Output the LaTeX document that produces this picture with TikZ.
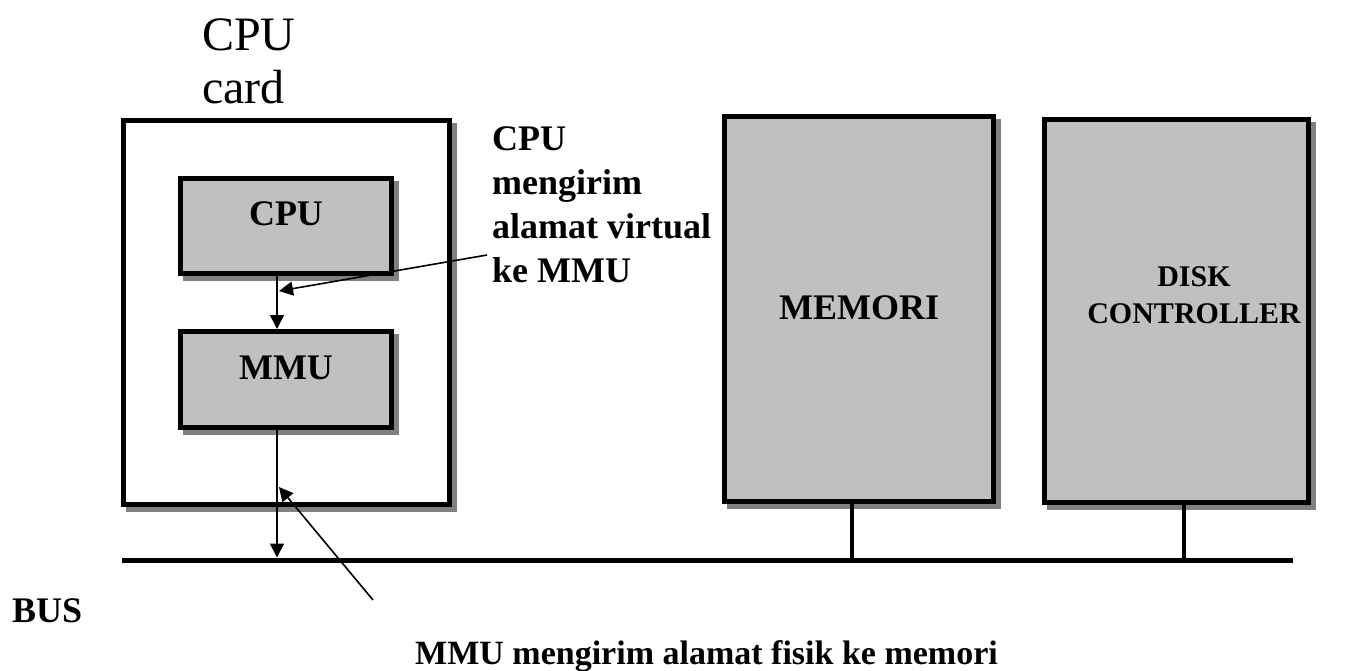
\documentclass[tikz,border=0pt]{standalone}
\usepackage{fontspec}
\setmainfont{Liberation Serif}
\usetikzlibrary{positioning, arrows.meta, shadows}
\definecolor{boxgray}{HTML}{C0C0C0}
\definecolor{shadegray}{HTML}{808080}

\begin{document}
\begin{tikzpicture}[x=1pt, y=-1pt, >={Triangle[length=14pt,width=14pt]},
    unit/.style={draw, line width=5pt, fill=boxgray, inner sep=0pt,
        general shadow={draw=shadegray, fill=shadegray, line width=5pt,
            shadow xshift=5pt, shadow yshift=-5pt}},
    lbl/.style={font=\bfseries\fontsize{36}{44}\selectfont, inner sep=0pt},
    thin/.style={line width=1.6pt}]
    \useasboundingbox (0,0) rectangle (1351,670);

    % boxes
    \node [unit, fill=white, minimum width=326pt, minimum height=384pt] (card) at (286.5,312.5) {};
    \node [unit, minimum width=211pt, minimum height=95pt] (cpu) at (286,226) {};
    \node [unit, minimum width=211pt, minimum height=96pt] (mmu) at (286,379.5) {};
    \node [unit, minimum width=269pt, minimum height=385pt] (mem) at (859,309) {};
    \node [unit, minimum width=264pt, minimum height=383pt] (disk) at (1176.5,311) {};

    \node [lbl, anchor=base] (cpulbl) at (286,225) {CPU};
    \node [lbl, anchor=base] (mmulbl) at (286,379) {MMU};
    \node [lbl, anchor=base] (memlbl) at (859,319) {MEMORI};
    \node [lbl, font=\bfseries\fontsize{30}{37}\selectfont, align=center, anchor=base] (disklbl) at (1194,323) {DISK\\CONTROLLER};

    % bus and taps
    \coordinate (busL) at (122,560);
    \coordinate (busR) at (1293,560);
    \coordinate (cputap) at (277,560);
    \coordinate (memtap) at (852,560);
    \coordinate (disktap) at (1184,560);
    \draw [line width=5pt] (busL) -- (busR);
    \draw [line width=4pt] (memtap |- mem.south) -- (memtap);
    \draw [line width=4pt] (disktap |- disk.south) -- (disktap);

    \draw [thin, ->] (cpu.south -| cputap) -- (mmu.north -| cputap);
    \draw [thin, ->, shorten >=2.5pt] (mmu.south -| cputap) -- (cputap);

    % notes
    \node [font=\fontsize{48}{53}\selectfont, align=left, anchor=base west, inner sep=0pt] (cardlbl) at (202,103) {CPU\\card};
    \node [lbl, align=left, anchor=base west] (virtlbl) at (492,282) {CPU\\mengirim\\alamat virtual\\ke MMU};
    \node [lbl, anchor=base west] (buslbl) at (12,622) {BUS};
    \node [lbl, font=\bfseries\fontsize{34}{40}\selectfont, anchor=base west] (fislbl) at (415,664) {MMU mengirim alamat fisik ke memori};

    \coordinate (virtfrom) at (487,255);
    \coordinate (virtto) at (279,291);
    \coordinate (fisfrom) at (373,600);
    \coordinate (fisto) at (279,487);
    \draw [thin, ->] (virtfrom) -- (virtto);
    \draw [thin, ->] (fisfrom) -- (fisto);
\end{tikzpicture}
\end{document}
